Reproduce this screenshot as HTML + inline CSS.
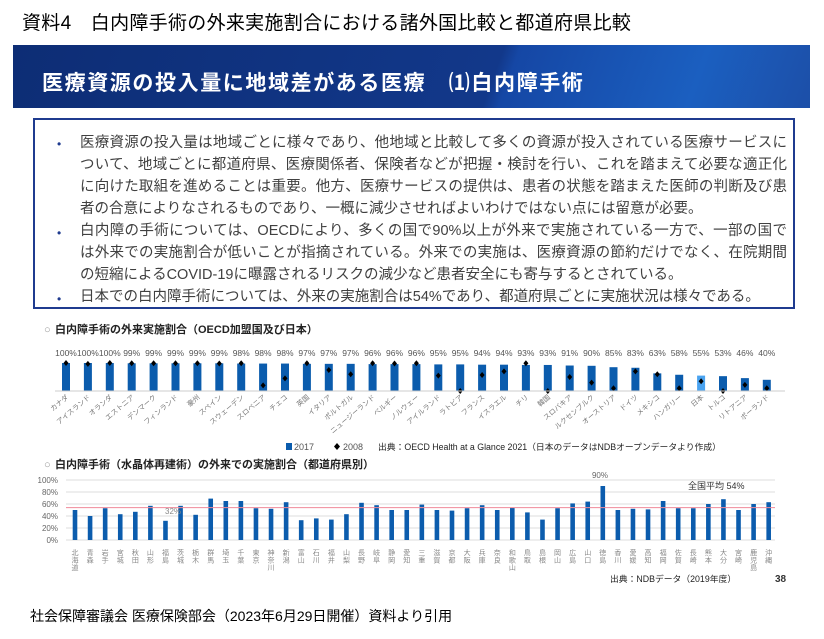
<!DOCTYPE html>
<html><head><meta charset="utf-8"><style>
body{margin:0;width:824px;height:639px;background:#fff;position:relative;overflow:hidden;font-family:"Liberation Sans","Noto Sans CJK JP",sans-serif}
.abs{position:absolute;white-space:nowrap}
.ln{position:absolute;left:80px;width:707px;font-size:14.5px;color:#404040;text-align:justify;text-align-last:justify;white-space:nowrap;line-height:18px}
.ln.l{text-align-last:left}
.dot{position:absolute;left:57px;font-size:12px;color:#1f3b8f}
</style></head><body>
<div class="abs" style="left:22px;top:8px;font-size:19px;color:#000;letter-spacing:0.3px">資料4　白内障手術の外来実施割合における諸外国比較と都道府県比較</div>
<div class="abs" style="left:13px;top:45px;width:797px;height:63px;background:linear-gradient(110deg,#0d2d75 0%,#12388a 60%,#1547a5 62%,#1b5fc0 85%,#1c4fa8 100%)"></div>
<div class="abs" style="left:42px;top:67px;font-size:21px;font-weight:bold;color:#fff;letter-spacing:1.6px">医療資源の投入量に地域差がある医療　⑴白内障手術</div>
<div class="abs" style="left:33px;top:118px;width:758px;height:187px;border:2px solid #1f3b8f;"></div>
<div class="dot" style="top:137px">•</div>
<div class="ln" style="top:134px">医療資源の投入量は地域ごとに様々であり、他地域と比較して多くの資源が投入されている医療サービスに</div>
<div class="ln" style="top:156px">ついて、地域ごとに都道府県、医療関係者、保険者などが把握・検討を行い、これを踏まえて必要な適正化</div>
<div class="ln" style="top:178px">に向けた取組を進めることは重要。他方、医療サービスの提供は、患者の状態を踏まえた医師の判断及び患</div>
<div class="ln l" style="top:200px">者の合意によりなされるものであり、一概に減少させればよいわけではない点には留意が必要。</div>
<div class="dot" style="top:226px">•</div>
<div class="ln" style="top:222px">白内障の手術については、OECDにより、多くの国で90%以上が外来で実施されている一方で、一部の国で</div>
<div class="ln" style="top:244px">は外来での実施割合が低いことが指摘されている。外来での実施は、医療資源の節約だけでなく、在院期間</div>
<div class="ln l" style="top:266px">の短縮によるCOVID-19に曝露されるリスクの減少など患者安全にも寄与するとされている。</div>
<div class="dot" style="top:292px">•</div>
<div class="ln l" style="top:288px">日本での白内障手術については、外来の実施割合は54%であり、都道府県ごとに実施状況は様々である。</div>
<svg class="abs" style="left:0;top:0" width="824" height="639" id="s"></svg>
<div class="abs" style="left:30px;top:606px;font-size:14px;color:#000">社会保障審議会 医療保険部会（2023年6月29日開催）資料より引用</div>
<script>
var s=document.getElementById('s'),h='';
function t(x,y,str,sz,col,extra){h+='<text x="'+x+'" y="'+y+'" font-size="'+sz+'" fill="'+col+'" '+(extra||'')+'>'+str+'</text>';}
t(44,333,'○',11,'#999');t(55,333,'白内障手術の外来実施割合（OECD加盟国及び日本）',11,'#222','font-weight="bold"');
var c=['カナダ','アイスランド','オランダ','エストニア','デンマーク','フィンランド','豪州','スペイン','スウェーデン','スロベニア','チェコ','英国','イタリア','ポルトガル','ニュージーランド','ベルギー','ノルウェー','アイルランド','ラトビア','フランス','イスラエル','チリ','韓国','スロバキア','ルクセンブルク','オーストリア','ドイツ','メキシコ','ハンガリー','日本','トルコ','リトアニア','ポーランド'];
var v=[100,100,100,99,99,99,99,99,98,98,98,97,97,97,96,96,96,95,95,94,94,93,93,91,90,85,83,63,58,55,53,46,40];
var d=[100,97,100,99,99,99,99,98,99,20,45,99,75,60,99,98,99,55,0,57,70,99,0,50,30,10,70,60,10,35,0,22,10];
var b0=391,sc=28;
for(var i=0;i<33;i++){var x=66+i*21.9;var hh=sc*v[i]/100;
h+='<rect x="'+(x-4)+'" y="'+(b0-hh)+'" width="8" height="'+hh+'" fill="'+(i==29?'#4aa3f0':'#0b5cad')+'"/>';
t(x,356,v[i]+'%',8.5,'#555','text-anchor="middle"');
var dy=b0-sc*d[i]/100;h+='<path d="M'+x+' '+(dy-3)+'L'+(x+2.5)+' '+dy+'L'+x+' '+(dy+3)+'L'+(x-2.5)+' '+dy+'Z" fill="#000"/>';
t(x+3,398,c[i],7,'#777','text-anchor="end" transform="rotate(-40 '+(x+3)+' 398)"');}
h+='<line x1="55" y1="391" x2="785" y2="391" stroke="#ccc"/>';
h+='<rect x="286" y="443" width="6" height="7" fill="#0b5cad"/>';t(294,450,'2017',9,'#555');
h+='<path d="M337 443L340 446.5L337 450L334 446.5Z" fill="#000"/>';t(343,450,'2008',9,'#555');
t(378,450,'出典：OECD Health at a Glance 2021（日本のデータはNDBオープンデータより作成）',8.8,'#222');
t(44,468,'○',11,'#999');t(55,468,'白内障手術（水晶体再建術）の外来での実施割合（都道府県別）',11,'#222','font-weight="bold"');
for(var g=0;g<=5;g++){var y=540-g*12;h+='<line x1="66" y1="'+y+'" x2="775" y2="'+y+'" stroke="#ddd"/>';t(58,y+3,(g*20)+'%',8,'#666','text-anchor="end"');}
var p=['北海道','青森','岩手','宮城','秋田','山形','福島','茨城','栃木','群馬','埼玉','千葉','東京','神奈川','新潟','富山','石川','福井','山梨','長野','岐阜','静岡','愛知','三重','滋賀','京都','大阪','兵庫','奈良','和歌山','鳥取','島根','岡山','広島','山口','徳島','香川','愛媛','高知','福岡','佐賀','長崎','熊本','大分','宮崎','鹿児島','沖縄'];
var pv=[50,40,53,43,47,57,32,57,42,69,65,65,53,52,63,33,36,34,43,62,58,50,50,59,50,49,53,58,50,54,46,34,53,61,64,90,50,52,51,65,53,53,60,68,50,60,63];
for(var i=0;i<47;i++){var x=75+i*15.08;var hh=pv[i]*0.6;
h+='<rect x="'+(x-2.3)+'" y="'+(540-hh)+'" width="4.6" height="'+hh+'" fill="#0b5cad"/>';
var ch=p[i].split(''),yy=555;for(var k=0;k<ch.length;k++){var yk=yy+k*7.5;if(k>=3){yk=yy+2*7.5;}
if(k<3)t(x,yk,ch[k],7,'#888','text-anchor="middle"');else t(x,yy+3*7.5+4,ch[k],7,'#888','text-anchor="middle"');}}
h+='<line x1="66" y1="507.6" x2="775" y2="507.6" stroke="#f08a9a" stroke-width="1"/>';
t(165,514,'32%',8,'#888');t(600,478,'90%',8,'#666','text-anchor="middle"');t(688,489,'全国平均 54%',9,'#333');
t(610,582,'出典：NDBデータ（2019年度）',8.8,'#222');t(775,582,'38',10,'#333','font-weight="bold"');
s.innerHTML=h;
</script>
</body></html>
